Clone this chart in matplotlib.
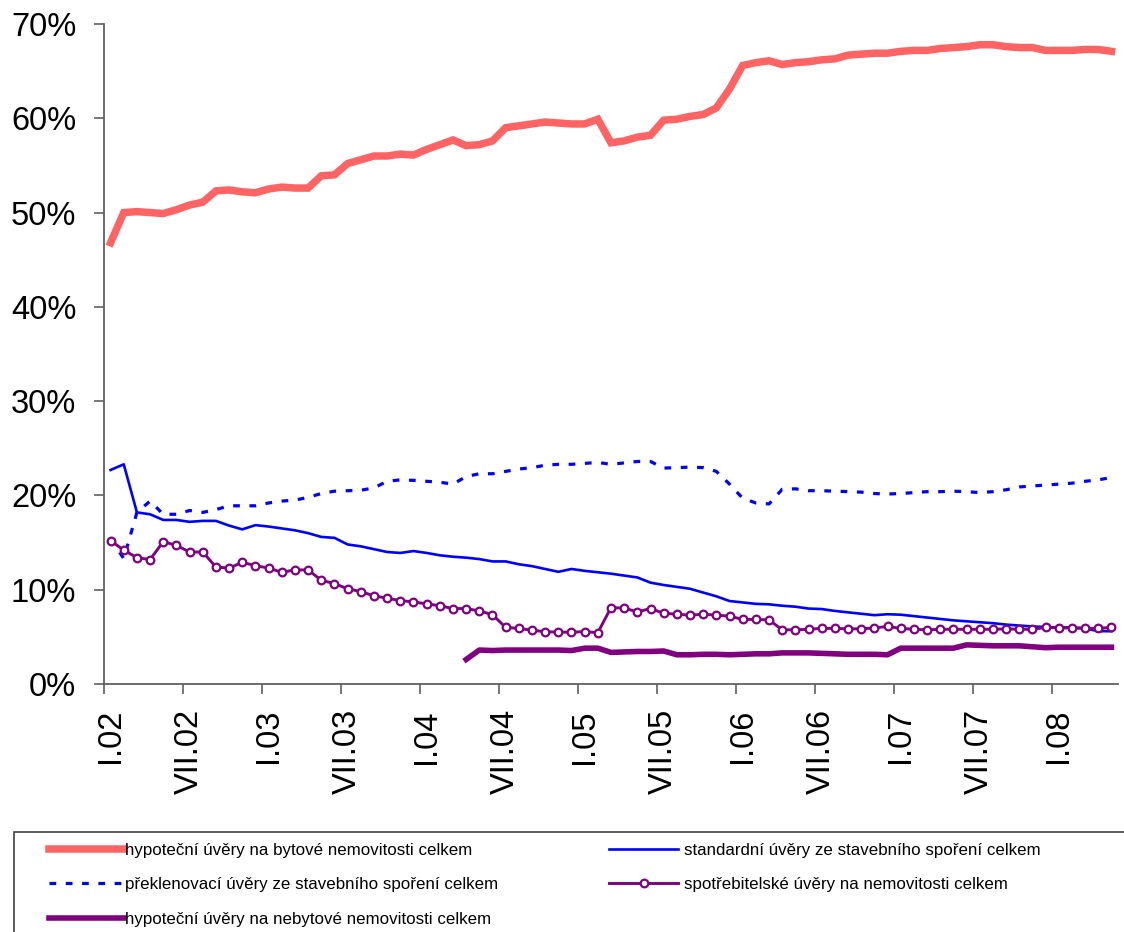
import numpy as np
import matplotlib.pyplot as plt
from matplotlib.patches import Rectangle

plt.rcParams['font.family'] = ['Liberation Sans', 'DejaVu Sans']

# měsíční řada I.2002 - V.2008 (podíly v %)
months = np.arange(77)
tick_labels = ['I.02', 'VII.02', 'I.03', 'VII.03', 'I.04', 'VII.04', 'I.05',
               'VII.05', 'I.06', 'VII.06', 'I.07', 'VII.07', 'I.08']

hypo_byt = [46.8, 50.0, 50.1, 50.0, 49.9, 50.3, 50.8, 51.1, 52.3, 52.4,
            52.2, 52.1, 52.5, 52.7, 52.6, 52.6, 53.9, 54.0, 55.2, 55.6,
            56.0, 56.0, 56.2, 56.1, 56.7, 57.2, 57.7, 57.1, 57.2, 57.6,
            59.0, 59.2, 59.4, 59.6, 59.5, 59.4, 59.4, 59.9, 57.4, 57.6,
            58.0, 58.2, 59.8, 59.9, 60.2, 60.4, 61.1, 63.1, 65.6, 65.9,
            66.1, 65.7, 65.9, 66.0, 66.2, 66.3, 66.7, 66.8, 66.9, 66.9,
            67.1, 67.2, 67.2, 67.4, 67.5, 67.6, 67.8, 67.8, 67.6, 67.5,
            67.5, 67.2, 67.2, 67.2, 67.3, 67.3, 67.1]

standard = [22.7, 23.3, 18.2, 18.0, 17.4, 17.4, 17.2, 17.3, 17.3, 16.8,
            16.4, 16.85, 16.7, 16.5, 16.3, 16.0, 15.6, 15.5, 14.8, 14.6,
            14.3, 14.0, 13.9, 14.1, 13.9, 13.65, 13.5, 13.4, 13.25, 13.0,
            13.0, 12.7, 12.5, 12.2, 11.9, 12.2, 12.0, 11.85, 11.7, 11.5,
            11.3, 10.75, 10.5, 10.3, 10.1, 9.7, 9.3, 8.8, 8.65, 8.5,
            8.45, 8.3, 8.2, 8.0, 7.95, 7.75, 7.6, 7.45, 7.3, 7.4,
            7.35, 7.2, 7.05, 6.9, 6.75, 6.65, 6.55, 6.45, 6.3, 6.2,
            6.1, 6.05, 6.0, 6.0, 5.9, 5.6, 5.6]

preklenovaci = [15.4, 13.3, 18.2, 19.4, 18.0, 18.0, 18.4, 18.2, 18.5, 18.9,
                18.9, 18.9, 19.2, 19.4, 19.5, 19.8, 20.2, 20.45, 20.5, 20.55,
                20.8, 21.5, 21.65, 21.6, 21.5, 21.4, 21.2, 22.0, 22.3, 22.3,
                22.55, 22.8, 22.95, 23.2, 23.3, 23.3, 23.4, 23.5, 23.3, 23.45,
                23.6, 23.6, 22.9, 22.95, 23.0, 22.95, 22.55, 21.2, 19.7, 19.2,
                19.1, 20.65, 20.7, 20.5, 20.5, 20.45, 20.4, 20.35, 20.2, 20.15,
                20.2, 20.3, 20.4, 20.4, 20.45, 20.4, 20.3, 20.4, 20.6, 20.9,
                21.0, 21.1, 21.2, 21.3, 21.5, 21.65, 21.9]

spotrebitelske = [15.2, 14.2, 13.4, 13.2, 15.1, 14.7, 14.0, 14.0, 12.4, 12.3,
                  12.9, 12.55, 12.3, 11.85, 12.1, 12.1, 11.0, 10.65, 10.1, 9.8,
                  9.35, 9.1, 8.85, 8.7, 8.5, 8.3, 8.0, 8.0, 7.75, 7.35,
                  6.0, 5.9, 5.7, 5.55, 5.5, 5.5, 5.55, 5.45, 8.1, 8.05,
                  7.65, 8.0, 7.5, 7.4, 7.3, 7.4, 7.3, 7.2, 6.85, 6.85,
                  6.8, 5.75, 5.75, 5.8, 5.9, 5.9, 5.85, 5.85, 5.95, 6.1,
                  5.9, 5.8, 5.75, 5.8, 5.8, 5.8, 5.8, 5.8, 5.85, 5.8,
                  5.8, 6.0, 5.95, 5.95, 5.9, 5.9, 6.0]

# nebytové hypotéky se sledují až od IV.2004
nebyt_start = 27
hypo_nebyt = [2.6, 3.6, 3.55, 3.6, 3.6, 3.6, 3.6, 3.6, 3.55, 3.8,
              3.8, 3.35, 3.4, 3.45, 3.45, 3.5, 3.1, 3.1, 3.15, 3.15,
              3.1, 3.15, 3.2, 3.2, 3.3, 3.3, 3.3, 3.25, 3.2, 3.15,
              3.15, 3.15, 3.1, 3.8, 3.8, 3.8, 3.8, 3.8, 4.15, 4.1,
              4.05, 4.05, 4.05, 3.95, 3.85, 3.9, 3.9, 3.9, 3.9, 3.9]

names = ['hypoteční úvěry na bytové nemovitosti celkem',
         'standardní úvěry ze stavebního spoření celkem',
         'překlenovací úvěry ze stavebního spoření celkem',
         'spotřebitelské úvěry na nemovitosti celkem',
         'hypoteční úvěry na nebytové nemovitosti celkem']

W, H = 1124, 932
fig = plt.figure(figsize=(W / 100, H / 100), dpi=100)
ax = fig.add_axes([104 / W, 248 / H, (1118 - 104) / W, 660 / H])

l1, = ax.plot(months, hypo_byt, color='#ff6464', lw=5.4, solid_joinstyle='miter')
l2, = ax.plot(months, standard, color='#0000ff', lw=1.9)
l3, = ax.plot(months, preklenovaci, color='#0000ff', lw=2.3, dashes=(2.1, 3.0))
l4, = ax.plot(months, spotrebitelske, color='#800080', lw=2.1, marker='o',
              ms=5.5, mfc='white', mec='#800080', mew=1.6)
l5, = ax.plot(months[nebyt_start:], hypo_nebyt, color='#800080', lw=4.0)

ax.set_xlim(-0.5, 76.5)
ax.set_ylim(0, 70)

ax.set_yticks(np.arange(0, 71, 10))
ax.set_yticklabels([f'{v}%' for v in range(0, 71, 10)])
ax.tick_params(axis='y', length=7, width=1.2, color='#606060', pad=13,
               labelsize=23.5)

# popisky pod středy měsíců, čárky mezi kategoriemi
ax.set_xticks(months[::6])
ax.set_xticklabels(tick_labels, rotation=90)
ax.set_xticks(np.arange(-0.5, 77, 6), minor=True)
ax.tick_params(axis='x', which='major', length=0, pad=18, labelsize=23.5)
ax.tick_params(axis='x', which='minor', length=7, width=1.2, color='#606060')

for side in ['top', 'right']:
    ax.spines[side].set_visible(False)
for side in ['left', 'bottom']:
    ax.spines[side].set_color('#606060')
    ax.spines[side].set_linewidth(1.3)

# rámeček legendy
fig.patches.append(Rectangle((14 / W, -0.02), 1.0, (932 - 832) / H + 0.02,
                             transform=fig.transFigure, fill=False,
                             edgecolor='#404040', lw=1.2))

leg_kw = dict(loc='upper left', frameon=False, borderpad=0, borderaxespad=0,
              fontsize=12.2, labelspacing=1.14, numpoints=1)
fig.legend([l1, l3, l5], [names[0], names[2], names[4]],
           bbox_to_anchor=(49 / W, 1 - 843 / H), handlelength=4.4,
           handletextpad=0.1, **leg_kw)
fig.legend([l2, l4], [names[1], names[3]],
           bbox_to_anchor=(609 / W, 1 - 843 / H), handlelength=4.1,
           handletextpad=0.3, **leg_kw)

fig.savefig('out.png', dpi=100)
